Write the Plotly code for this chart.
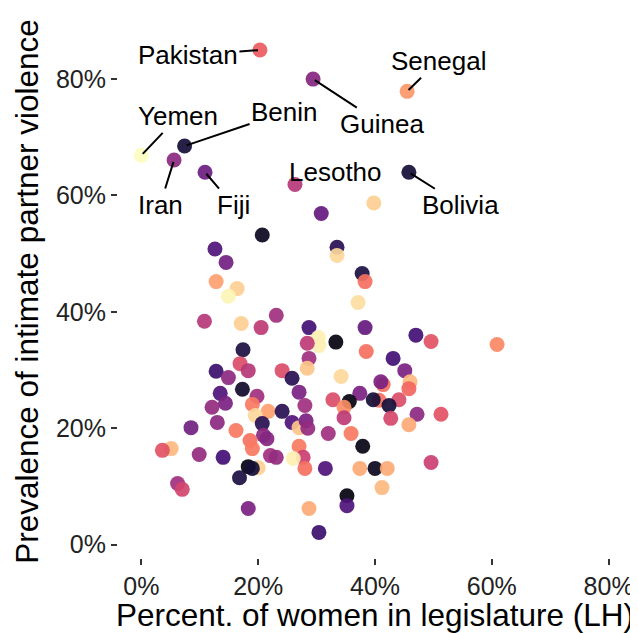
import plotly.graph_objects as go

# Percent of women in legislature (lower house)
women_leg = [20.3, 45.5, 29.4, 0.0, 7.4, 5.6, 10.9, 26.3, 45.8,
             39.8, 30.8, 20.7, 12.6, 14.5, 12.8, 16.4, 14.9, 10.8, 17.1, 20.5,
             17.4, 16.9, 18.3, 12.8, 14.9, 17.3, 13.5, 33.5, 33.5, 37.8,
             38.3, 37.1, 23.1, 28.7, 38.3, 30.3, 30.4, 28.4, 33.3, 38.5,
             28.7, 43.1, 45.1, 24.1, 25.8, 28.4, 34.2, 41.4, 41.0, 47.0,
             49.6, 60.9, 46.0, 45.8, 44.1, 47.2, 51.3, 45.8, 49.6, 37.4,
             40.7, 39.7, 42.4, 42.7, 35.6, 35.9, 37.9, 37.4, 40.0, 42.1,
             19.8, 27.0, 19.0, 21.7, 19.5, 24.1, 28.0, 32.8, 34.7, 34.7,
             20.7, 25.8, 27.0, 28.2, 28.5, 32.0, 20.9, 21.5, 18.6, 19.0,
             27.0, 27.7, 22.1, 23.1, 26.0, 28.0, 31.5, 41.2, 20.0, 18.3,
             19.0, 35.2, 35.2, 28.7, 30.4, 18.3, 14.4, 12.1, 13.0, 8.5,
             16.2, 5.1, 3.6, 9.9, 14.0, 16.8, 6.2, 7.0]

# Prevalence of intimate partner violence
ipv = [85.0, 77.9, 80.0, 66.9, 68.5, 66.1, 64.0, 61.9, 64.0,
       58.7, 56.9, 53.2, 50.8, 48.5, 45.2, 44.0, 42.7, 38.4, 38.0, 37.3,
       33.5, 31.1, 29.9, 29.8, 28.7, 26.7, 26.0, 51.1, 49.7, 46.6,
       45.2, 41.6, 39.4, 37.3, 37.3, 35.6, 34.2, 34.6, 34.8, 33.2,
       32.0, 32.0, 29.9, 29.9, 28.6, 30.3, 28.9, 27.5, 28.0, 36.0,
       34.9, 34.4, 28.0, 26.8, 24.9, 22.4, 22.4, 20.6, 14.1, 26.0,
       24.8, 24.9, 23.9, 21.7, 24.6, 19.1, 16.9, 13.1, 13.1, 13.1,
       25.5, 26.2, 24.1, 22.9, 22.2, 22.9, 23.9, 24.9, 23.6, 21.8,
       20.8, 21.0, 20.1, 21.3, 20.0, 19.1, 18.8, 18.2, 17.9, 16.5,
       16.9, 15.0, 15.3, 15.0, 14.8, 13.1, 13.1, 9.8, 13.2, 13.4,
       13.1, 8.4, 6.7, 6.2, 2.1, 6.2, 24.3, 23.6, 21.0, 20.1,
       19.6, 16.5, 16.2, 15.5, 15.0, 11.5, 10.5, 9.5]

# Colour variable (0 = dark, 1 = light on the magma scale)
colour_val = [0.65, 0.78, 0.38, 1.00, 0.10, 0.40, 0.32, 0.50, 0.10,
              0.90, 0.30, 0.05, 0.25, 0.33, 0.80, 0.90, 0.98, 0.50, 0.90, 0.52,
              0.12, 0.60, 0.50, 0.20, 0.40, 0.08, 0.25, 0.15, 0.92, 0.12,
              0.70, 0.93, 0.45, 0.22, 0.30, 0.97, 0.97, 0.52, 0.02, 0.70,
              0.45, 0.22, 0.35, 0.60, 0.15, 0.88, 0.92, 0.70, 0.35, 0.22,
              0.62, 0.75, 0.85, 0.68, 0.60, 0.40, 0.62, 0.82, 0.55, 0.35,
              0.70, 0.10, 0.10, 0.58, 0.02, 0.72, 0.03, 0.82, 0.05, 0.82,
              0.45, 0.35, 0.72, 0.80, 0.92, 0.15, 0.45, 0.60, 0.76, 0.52,
              0.15, 0.25, 0.88, 0.35, 0.42, 0.45, 0.40, 0.38, 0.70, 0.72,
              0.72, 0.55, 0.45, 0.42, 0.97, 0.70, 0.25, 0.85, 0.90, 0.02,
              0.10, 0.02, 0.25, 0.82, 0.20, 0.35, 0.35, 0.42, 0.40, 0.33,
              0.72, 0.85, 0.62, 0.42, 0.22, 0.12, 0.45, 0.57]

# Country labels (blank = unlabelled)
country = ["Pakistan", "Senegal", "Guinea", "Yemen", "Benin", "Iran", "Fiji",
           "Lesotho", "Bolivia"] + [""] * (len(women_leg) - 9)

# label offsets in pixels (dx, dy) and whether a leader segment is drawn
label_offsets = {
    "Pakistan": (-72, 5, True),
    "Senegal": (31, -30, True),
    "Guinea": (69, 45, True),
    "Yemen": (37, -39, True),
    "Benin": (100, -34, True),
    "Iran": (-14, 45, True),
    "Fiji": (28, 33, True),
    "Lesotho": (41, -12, False),
    "Bolivia": (52, 33, True),
}

x_ticks = [0, 20, 40, 60, 80]
y_ticks = [0, 20, 40, 60, 80]
x_tick_text = [f"{v}%" for v in x_ticks]
y_tick_text = [f"{v}%" for v in y_ticks]

FONT = "Liberation Sans, Arial, sans-serif"

fig = go.Figure()
fig.add_trace(go.Scatter(
    x=women_leg, y=ipv, mode="markers",
    marker=dict(size=15, color=colour_val, colorscale="Magma", cmin=0, cmax=1,
                opacity=0.92, line=dict(width=0), showscale=False),
    hoverinfo="skip", showlegend=False,
))

annotations = []
for xv, yv, name in zip(women_leg, ipv, country):
    if not name:
        continue
    dx, dy, seg = label_offsets[name]
    annotations.append(dict(
        x=xv, y=yv, xref="x", yref="y", text=name,
        showarrow=True, ax=dx, ay=dy, arrowhead=0, arrowwidth=2,
        arrowcolor="black" if seg else "rgba(0,0,0,0)", standoff=2,
        font=dict(family=FONT, size=26, color="black"),
    ))

# page body has an 8px default margin; figure is sized/shifted to compensate
fig.update_layout(
    width=630, height=625,
    margin=dict(l=110, r=6, t=17, b=75, autoexpand=False),
    paper_bgcolor="white", plot_bgcolor="white",
    font=dict(family=FONT, color="black"),
    annotations=annotations,
    xaxis=dict(
        range=[-4, 84], tickmode="array", tickvals=x_ticks, ticktext=x_tick_text,
        ticks="outside", ticklen=6, tickwidth=2, tickcolor="#333333",
        showgrid=False, zeroline=False, showline=False,
        tickfont=dict(family=FONT, size=25, color="#222222"),
        title=dict(text="Percent. of women in legislature (LH)",
                   font=dict(family=FONT, size=31.5, color="black"), standoff=6),
        automargin=False,
    ),
    yaxis=dict(
        range=[-2.3, 89.3], tickmode="array", tickvals=y_ticks, ticktext=y_tick_text,
        ticks="outside", ticklen=6, tickwidth=2, tickcolor="#333333",
        showgrid=False, zeroline=False, showline=False,
        tickfont=dict(family=FONT, size=25, color="#222222"),
        title=dict(text="Prevalence of intimate partner violence",
                   font=dict(family=FONT, size=31.5, color="black"), standoff=7),
        automargin=False,
    ),
)

fig.write_html("out.html")
